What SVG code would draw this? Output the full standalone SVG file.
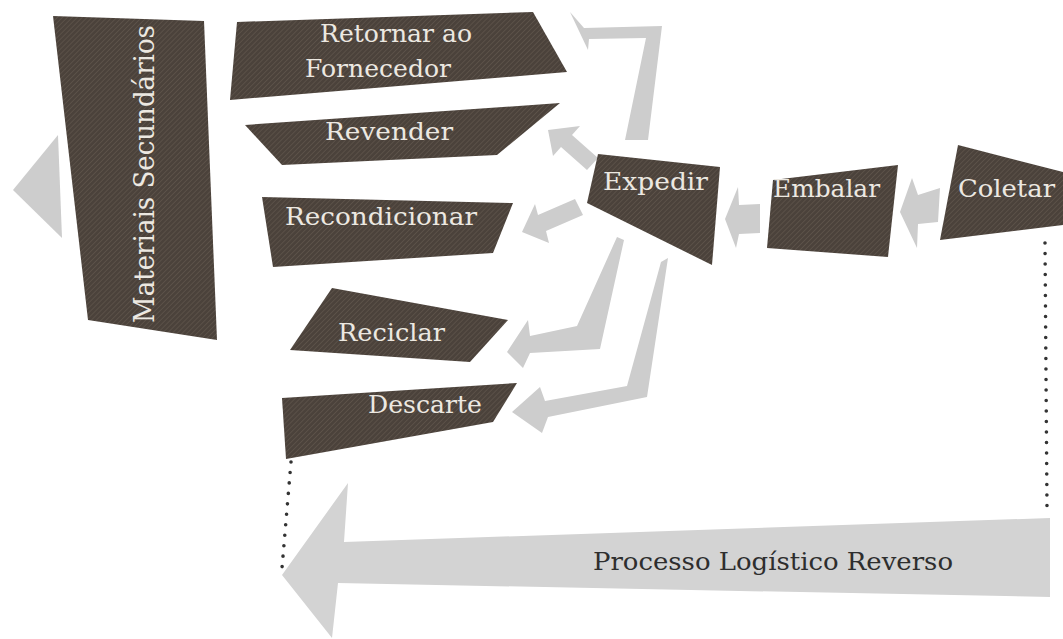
<svg xmlns="http://www.w3.org/2000/svg" width="1063" height="639" viewBox="0 0 1063 639">
  <defs>
    <pattern id="hatch" width="3.5" height="3.5" patternUnits="userSpaceOnUse" patternTransform="rotate(45)">
      <rect width="3.5" height="3.5" fill="#4b423b"/>
      <line x1="0" y1="0" x2="0" y2="3.5" stroke="#685d54" stroke-width="1"/>
    </pattern>
  </defs>
  <style>
    .box { fill: url(#hatch); }
    .lbl { font-family: "DejaVu Serif", "Liberation Serif", serif; font-size: 25px; fill: #ece8e1; }
    .arw { fill: #cdcdcd; }
    .dots { fill: none; stroke: #333333; stroke-width: 3.6; stroke-linecap: round; stroke-dasharray: 0 10.5; }
    .big { font-family: "DejaVu Serif", "Liberation Serif", serif; font-size: 25px; fill: #2e2e2e; }
  </style>

  <rect width="1063" height="639" fill="#ffffff"/>

  <!-- connectors -->
  <g id="connectors">
    <!-- outward arrow from Materiais Secundários -->
    <polygon class="arw" points="13,190 58,135 62,238"/>
    <!-- Expedir -> Retornar ao Fornecedor -->
    <polygon class="arw" points="570,12 584,28 662,26 648,140 625,140 646,38 589,39 588,50"/>
    <!-- Expedir -> Revender -->
    <polygon class="arw" points="548,130 580,126 572,135 598,158 587,170 561,147 553,156"/>
    <!-- Expedir -> Recondicionar -->
    <polygon class="arw" points="522,232 535,204 538,215 575,199 583,215 546,231 549,243"/>
    <!-- Expedir -> Reciclar -->
    <polygon class="arw" points="507,352 528,320 530,336 577,326 617,237 624,240 600,349 530,353 523,368"/>
    <!-- Expedir -> Descarte -->
    <polygon class="arw" points="512,412 540,387 545,401 627,386 661,262 668,258 647,397 548,417 542,433"/>
    <!-- Embalar -> Expedir -->
    <polygon class="arw" points="725,219 738,187 739,205 760,204 760,233 739,234 736,248"/>
    <!-- Coletar -> Embalar -->
    <polygon class="arw" points="900,212 912,178 918,195 940,188 938,222 918,224 917,248"/>
    <!-- dotted boundary of the reverse flow -->
    <line class="dots" x1="1045" y1="243" x2="1047" y2="508"/>
    <line class="dots" x1="291" y1="462" x2="282" y2="568"/>
    <!-- main reverse-logistics arrow -->
    <polygon style="fill:#d3d3d3" points="282,575 348,483 344,542 1050,518 1050,597 338,583 332,638"/>
    <text class="big" x="593" y="570" textLength="360" lengthAdjust="spacingAndGlyphs">Processo Logístico Reverso</text>
  </g>

  <!-- nodes -->
  <g id="node-materiais">
    <polygon class="box" points="53,16 204,21 217,340 88,320"/>
    <text class="lbl" style="font-size:28px" transform="translate(154,323) rotate(-90)" textLength="298" lengthAdjust="spacingAndGlyphs">Materiais Secundários</text>
  </g>

  <g id="node-retornar">
    <polygon class="box" points="237,22 533,12 567,72 230,100"/>
    <text class="lbl" x="320" y="42" textLength="152" lengthAdjust="spacingAndGlyphs">Retornar ao</text>
    <text class="lbl" x="305" y="77" textLength="146" lengthAdjust="spacingAndGlyphs">Fornecedor</text>
  </g>

  <g id="node-revender">
    <polygon class="box" points="245,125 560,103 497,155 282,165"/>
    <text class="lbl" x="325" y="140" textLength="128" lengthAdjust="spacingAndGlyphs">Revender</text>
  </g>

  <g id="node-recondicionar">
    <polygon class="box" points="262,197 513,203 493,253 273,267"/>
    <text class="lbl" x="285" y="225" textLength="192" lengthAdjust="spacingAndGlyphs">Recondicionar</text>
  </g>

  <g id="node-reciclar">
    <polygon class="box" points="332,288 508,320 470,362 290,350"/>
    <text class="lbl" x="338" y="341" textLength="107" lengthAdjust="spacingAndGlyphs">Reciclar</text>
  </g>

  <g id="node-descarte">
    <polygon class="box" points="282,398 517,383 493,422 286,459"/>
    <text class="lbl" x="368" y="413" textLength="114" lengthAdjust="spacingAndGlyphs">Descarte</text>
  </g>

  <g id="node-expedir">
    <polygon class="box" points="598,154 720,167 712,265 587,203"/>
    <text class="lbl" x="603" y="190" textLength="105" lengthAdjust="spacingAndGlyphs">Expedir</text>
  </g>

  <g id="node-embalar">
    <polygon class="box" points="773,180 898,165 888,257 767,248"/>
    <text class="lbl" x="773" y="197" textLength="107" lengthAdjust="spacingAndGlyphs">Embalar</text>
  </g>

  <g id="node-coletar">
    <polygon class="box" points="958,145 1063,172 1063,225 940,240"/>
    <text class="lbl" x="958" y="197" textLength="97" lengthAdjust="spacingAndGlyphs">Coletar</text>
  </g>
</svg>
